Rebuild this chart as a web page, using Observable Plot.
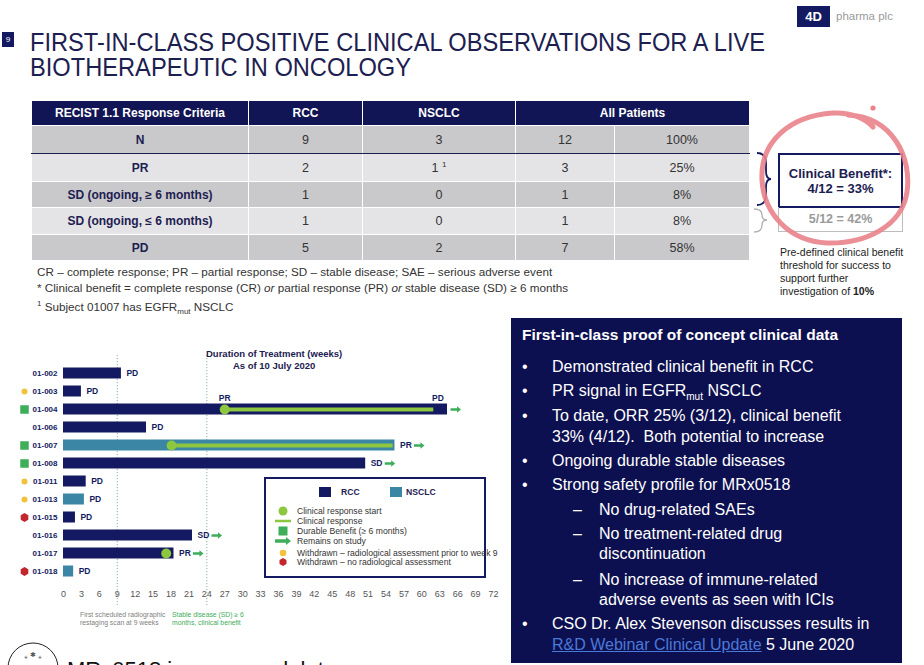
<!DOCTYPE html>
<html>
<head>
<meta charset="utf-8">
<script src="https://cdn.jsdelivr.net/npm/d3@7"></script>
<script src="https://cdn.jsdelivr.net/npm/@observablehq/plot@0.6"></script>
<style>
  html, body { margin: 0; padding: 0; }
  body { width: 924px; height: 665px; overflow: hidden; position: relative; background: #fff;
         font-family: "Liberation Sans", Arial, sans-serif; color: #222; }
  .abs { position: absolute; white-space: nowrap; }
  .tl { left: 30px; font-size: 26px; line-height: 22px; color: #1c2050; transform-origin: 0 50%; }
  #pageno { left: 2px; top: 32px; width: 12px; height: 15px; background: #141a61; color: #fff;
            font-size: 8px; text-align: center; line-height: 15px; }
  #logo4d { left: 797px; top: 6px; width: 33px; height: 21px; background: #141a61; color: #fff;
            font-weight: bold; font-size: 13px; line-height: 22px; text-align: center; }
  #logotxt { left: 836px; top: 10px; font-size: 11.5px; color: #9a9a9a; }
  table.resp { position: absolute; left: 31px; top: 100px; border-collapse: collapse; table-layout: fixed; }
  table.resp td, table.resp th { padding: 0; text-align: center; border: 1.5px solid #fff; }
  table.resp th { background: #111555; color: #fff; font-size: 12px; font-weight: bold; height: 24px; }
  table.resp td { font-size: 12.5px; color: #333; }
  table.resp td.lab { font-weight: bold; color: #1c2050; font-size: 12px; }
  table.resp tr.dark td { background: #c9c9cc; }
  table.resp tr.light td { background: #e4e4e7; }
  table.resp tr.nrow td { border-bottom: 1.5px solid #1c2050; }
  table.resp sup { font-size: 8px; }
  #foot { left: 37px; top: 264px; font-size: 11.7px; line-height: 16px; color: #333; }
  #foot sub { font-size: 8px; }
  #cbbox { left: 778px; top: 153px; width: 121px; height: 51px; border: 2px solid #141a61;
           font-weight: bold; font-size: 13px; color: #1c2050; text-align: center; line-height: 15px;
           display: flex; flex-direction: column; justify-content: center; background: #fff; }
  #cbbox2 { left: 778px; top: 207px; width: 123px; height: 24px; border: 1px solid #bdbdbd; border-top: none;
            font-weight: bold; font-size: 12.5px; color: #9a9a9a; text-align: center; line-height: 24px; }
  #predef { left: 780px; top: 246px; font-size: 10.5px; line-height: 13px; color: #222; }
  #rbox { left: 511px; top: 318px; width: 391px; height: 345px; background: #0d1050; color: #fff; }
  #rbox div { position: absolute; white-space: nowrap; font-size: 16px; line-height: 20px; }
  #rbox .h { font-weight: bold; font-size: 15.5px; }
  #rbox a { color: #4a79d8; text-decoration: underline; }
  #rbox sub { font-size: 10px; }
  #ctitle { left: 206px; top: 348px; font-weight: bold; font-size: 9.5px; color: #1c2050; line-height: 12px; text-align: center; }
  .note { font-size: 6.8px; line-height: 8px; }
  #legend { left: 264px; top: 477px; width: 218px; height: 97px; border: 2px solid #141a61; background: #fff; }
  #legend div { position: absolute; white-space: nowrap; font-size: 8.6px; color: #333; line-height: 10px; }
  #legend .sw { width: 12px; height: 10px; }
  #bottomtxt { left: 67px; top: 659px; font-size: 22px; line-height: 22px; color: #111; }
</style>
</head>
<body>
<script>
// ---------------- data ----------------
const patients  = ["01-002","01-003","01-004","01-006","01-007","01-008","01-011","01-013","01-015","01-016","01-017","01-018"];
const tumour    = ["RCC","RCC","RCC","RCC","NSCLC","RCC","RCC","NSCLC","RCC","RCC","RCC","NSCLC"];
const weeksOnTx = [9.7, 3.0, 64.3, 13.9, 55.5, 50.6, 3.8, 3.5, 2.0, 21.6, 18.5, 1.7];
const outcome   = ["PD","PD","","PD","PR","SD","PD","PD","PD","SD","PR","PD"];
const onStudy   = [false,false,true,false,true,true,false,false,false,true,true,false];
const status    = ["","early","durable","","durable","durable","early","early","none","","","none"];
const respStart = [null,null,27.0,null,18.1,null,null,null,null,null,17.2,null];
const respEnd   = [null,null,62.0,null,55.2,null,null,null,null,null,17.2,null];
const eventAbove = [{id:"01-004", week:27.0, label:"PR"}, {id:"01-004", week:62.7, label:"PD"}];
const weekTicks = d3.range(0, 73, 3);
const milestones = [9, 24];

const criteria = ["N","PR","SD (ongoing, \u2265 6 months)","SD (ongoing, \u2264 6 months)","PD"];
const rccN     = ["9","2","1","1","5"];
const nsclcN   = ["3","1 <sup>1</sup>","0","0","2"];
const allN     = ["12","3","1","1","7"];
const allPct   = ["100%","25%","8%","8%","58%"];

const NAVY = "#141a61", TEAL = "#3b86a4", LGREEN = "#8dc63f", GREEN = "#3eae5b", YELLOW = "#f2c23c", RED = "#c1272d";
</script>

<div class="abs" id="pageno">9</div>
<div class="abs tl" id="t1" style="top:31px;">FIRST-IN-CLASS POSITIVE CLINICAL OBSERVATIONS FOR A LIVE</div>
<div class="abs tl" id="t2" style="top:56px;">BIOTHERAPEUTIC IN ONCOLOGY</div>
<div class="abs" id="logo4d">4D</div>
<div class="abs" id="logotxt">pharma plc</div>

<table class="resp" id="tbl">
  <colgroup><col style="width:217px"><col style="width:114px"><col style="width:153px"><col style="width:99px"><col style="width:135px"></colgroup>
  <thead><tr><th>RECIST 1.1 Response Criteria</th><th>RCC</th><th>NSCLC</th><th colspan="2">All Patients</th></tr></thead>
  <tbody id="tbody"></tbody>
</table>

<svg class="abs" style="left:0;top:0;" width="924" height="300">
  <path d="M757 153 Q766 153 766 163 L766 171 Q766 179 771 179 Q766 179 766 187 L766 195 Q766 205 757 205" fill="none" stroke="#141a61" stroke-width="1.8"/>
  <path d="M754 209 Q762 209 762 215 Q762 220 767 220 Q762 220 762 225 Q762 232 754 232" fill="none" stroke="#b0b0b0" stroke-width="1.3"/>
</svg>
<div class="abs" id="cbbox"><div>Clinical Benefit*:</div><div>4/12 = 33%</div></div>
<div class="abs" id="cbbox2">5/12 = 42%</div>
<svg class="abs" style="left:0;top:0;" width="924" height="300">
  <path d="M848 115 C893 117 912 158 907 192 C902 226 866 244 827 243 C789 241 764 214 762 180 C760 142 789 116 833 113 C852 112 866 119 873 127" fill="none" stroke="#e9828a" stroke-width="5" stroke-linecap="round" opacity="0.9"/>
  <circle cx="873" cy="108" r="2.6" fill="#e9828a"/>
</svg>
<div class="abs" id="predef">Pre-defined clinical benefit<br>threshold for success to<br>support further<br>investigation of <b>10%</b></div>

<div class="abs" id="foot">CR – complete response; PR – partial response; SD – stable disease; SAE – serious adverse event<br>* Clinical benefit = complete response (CR) <i>or</i> partial response (PR) <i>or</i> stable disease (SD) ≥ 6 months<br><sup style="font-size:8px">1</sup> Subject 01007 has EGFR<sub>mut</sub> NSCLC</div>

<div class="abs" id="rbox">
  <div class="h" style="left:11px;top:7px;">First-in-class proof of concept clinical data</div>
  <div style="left:11px;top:39px;">•</div><div style="left:41px;top:39px;">Demonstrated clinical benefit in RCC</div>
  <div style="left:11px;top:63px;">•</div><div style="left:41px;top:63px;">PR signal in EGFR<sub>mut</sub> NSCLC</div>
  <div style="left:11px;top:88px;">•</div><div style="left:41px;top:88px;">To date, ORR 25% (3/12), clinical benefit</div>
  <div style="left:41px;top:109px;">33% (4/12).&nbsp; Both potential to increase</div>
  <div style="left:11px;top:133px;">•</div><div style="left:41px;top:133px;">Ongoing durable stable diseases</div>
  <div style="left:11px;top:157px;">•</div><div style="left:41px;top:157px;">Strong safety profile for MRx0518</div>
  <div style="left:62px;top:182px;">–</div><div style="left:88px;top:182px;">No drug-related SAEs</div>
  <div style="left:62px;top:206px;">–</div><div style="left:88px;top:206px;">No treatment-related drug</div>
  <div style="left:88px;top:226px;">discontinuation</div>
  <div style="left:62px;top:252px;">–</div><div style="left:88px;top:252px;">No increase of immune-related</div>
  <div style="left:88px;top:272px;">adverse events as seen with ICIs</div>
  <div style="left:11px;top:296px;">•</div><div style="left:41px;top:296px;">CSO Dr. Alex Stevenson discusses results in</div>
  <div style="left:41px;top:317px;"><a>R&amp;D Webinar Clinical Update</a> 5 June 2020</div>
</div>

<div id="chart" class="abs" style="left:0;top:340px;"></div>
<div class="abs" id="ctitle">Duration of Treatment (weeks)<br>As of 10 July 2020</div>
<div class="abs note" style="left:80px;top:611px;color:#808080;">First scheduled radiographic<br>restaging scan at 9 weeks</div>
<div class="abs note" style="left:172px;top:611px;color:#3eae5b;">Stable disease (SD) ≥ 6<br>months, clinical benefit</div>

<div class="abs" id="legend"></div>

<svg class="abs" style="left:0;top:630px;" width="70" height="35">
  <circle cx="33" cy="38" r="25" fill="none" stroke="#222" stroke-width="1"/>
  <text x="33" y="27" font-size="7" text-anchor="middle" fill="#555">⁎ ✱ ⁎</text>
</svg>
<div class="abs" id="bottomtxt">MRx0518 immunomodulator</div>

<script>
// ---------- table ----------
const tb = document.getElementById("tbody");
const heights = [28, 28, 26, 27, 26];
criteria.forEach((c, i) => {
  const tr = document.createElement("tr");
  tr.className = (i % 2 === 0 ? "dark" : "light") + (i === 0 ? " nrow" : "");
  tr.style.height = heights[i] + "px";
  tr.innerHTML = `<td class="lab">${c}</td><td>${rccN[i]}</td><td>${nsclcN[i]}</td><td>${allN[i]}</td><td>${allPct[i]}</td>`;
  tb.appendChild(tr);
});

// ---------- title fit ----------
const t1 = document.getElementById("t1"), t2 = document.getElementById("t2");
const k = 735 / t1.getBoundingClientRect().width;
t1.style.transform = `scaleX(${k})`; t2.style.transform = `scaleX(${k})`;

// ---------- swimmer plot ----------
const rows = patients.map((id, i) => ({
  id, type: tumour[i], weeks: weeksOnTx[i], outcome: outcome[i], onStudy: onStudy[i],
  status: status[i], rStart: respStart[i], rEnd: respEnd[i]
}));
const resp = rows.filter(d => d.rStart != null);

const arrowSymbol = {
  draw(ctx) {
    ctx.moveTo(-5, -1.3); ctx.lineTo(1.5, -1.3); ctx.lineTo(1.5, -3.2); ctx.lineTo(5.5, 0);
    ctx.lineTo(1.5, 3.2); ctx.lineTo(1.5, 1.3); ctx.lineTo(-5, 1.3); ctx.closePath();
  }
};

const lbl = {fontSize: 8.5, fontWeight: "bold", fill: NAVY};
const chart = Plot.plot({
  width: 510, height: 290,
  marginLeft: 63, marginRight: 17, marginTop: 23, marginBottom: 50,
  style: {fontFamily: "'Liberation Sans', Arial, sans-serif", fontSize: "9px", color: "#555", background: "transparent", overflow: "visible"},
  x: {domain: [0, 72], ticks: weekTicks, tickSize: 0, tickPadding: 10, label: null},
  y: {domain: patients, padding: 0, axis: null},
  marks: [
    Plot.ruleX(milestones, {stroke: "#8fb0a0", strokeWidth: 1, strokeDasharray: "1.2,1.8", insetTop: -8, insetBottom: -25}),
    Plot.barX(rows, {x1: () => 0, x2: "weeks", y: "id", fill: d => d.type === "RCC" ? NAVY : TEAL, insetTop: 3.5, insetBottom: 3.5}),
    Plot.ruleY(resp, {y: "id", x1: "rStart", x2: "rEnd", stroke: LGREEN, strokeWidth: 4}),
    Plot.dot(resp, {x: "rStart", y: "id", r: 5, fill: LGREEN, stroke: "none"}),
    Plot.text(rows.filter(d => d.outcome), {x: "weeks", y: "id", text: "outcome", dx: 5, textAnchor: "start", ...lbl}),
    Plot.text(eventAbove, {x: "week", y: "id", text: "label", dy: -11, textAnchor: "middle", ...lbl}),
    Plot.dot(rows.filter(d => d.onStudy && d.outcome), {x: "weeks", y: "id", symbol: arrowSymbol, fill: GREEN, stroke: "none", dx: 24}),
    Plot.dot(rows.filter(d => d.onStudy && !d.outcome), {x: "weeks", y: "id", symbol: arrowSymbol, fill: GREEN, stroke: "none", dx: 8}),
    Plot.dot(rows.filter(d => d.status === "early"), {x: () => 0, y: "id", dx: -39, r: 3, fill: YELLOW, stroke: "none"}),
    Plot.dot(rows.filter(d => d.status === "durable"), {x: () => 0, y: "id", dx: -39, r: 4.8, symbol: "square", fill: GREEN, stroke: "none"}),
    Plot.dot(rows.filter(d => d.status === "none"), {x: () => 0, y: "id", dx: -39, r: 3.8, symbol: "hexagon", fill: RED, stroke: "none"}),
    Plot.text(rows, {x: () => 0, y: "id", text: "id", dx: -6, textAnchor: "end", fontSize: 8, fontWeight: "bold", fill: NAVY})
  ]
});
document.getElementById("chart").appendChild(chart);

// ---------- legend ----------
const lg = document.getElementById("legend");
const sym = (inner) => `<svg width="20" height="12" viewBox="-10 -6 20 12" style="position:absolute;left:-5px;top:-1px">${inner}</svg>`;
const legendItems = [
  {label: "Clinical response start", svg: `<circle r="4.5" fill="${LGREEN}"/>`},
  {label: "Clinical response", svg: `<line x1="-8" x2="8" stroke="${LGREEN}" stroke-width="2.5"/>`},
  {label: "Durable Benefit (\u2265 6 months)", svg: `<rect x="-4.5" y="-4.5" width="9" height="9" fill="${GREEN}"/>`},
  {label: "Remains on study", svg: `<path d="M-8 -1.8 L3 -1.8 L3 -4 L8 0 L3 4 L3 1.8 L-8 1.8Z" fill="${GREEN}"/>`},
  {label: "Withdrawn \u2013 radiological assessment prior to week 9", svg: `<circle r="3.3" fill="${YELLOW}"/>`},
  {label: "Withdrawn \u2013 no radiological assessment", svg: `<path d="M0 -4 L3.5 -2 L3.5 2 L0 4 L-3.5 2 L-3.5 -2Z" fill="${RED}"/>`}
];
const ys = [27, 37, 47, 57, 69, 78];
let html = `<div class="sw" style="left:53px;top:8px;background:${NAVY}"></div><div style="left:75px;top:8px;font-weight:bold;color:#1c2050">RCC</div>`;
html += `<div class="sw" style="left:124px;top:8px;background:${TEAL}"></div><div style="left:140px;top:8px;font-weight:bold;color:#1c2050">NSCLC</div>`;
legendItems.forEach((it, i) => {
  html += `<div style="left:12px;top:${ys[i]}px;width:14px;height:10px">${sym(it.svg)}</div>`;
  html += `<div style="left:31px;top:${ys[i]}px">${it.label}</div>`;
});
lg.innerHTML = html;
</script>
</body>
</html>
